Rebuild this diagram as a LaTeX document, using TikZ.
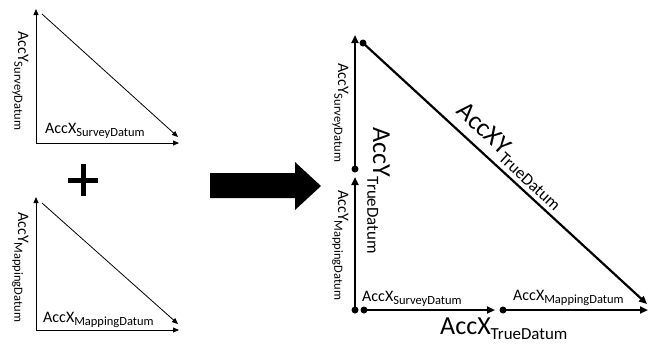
\documentclass[tikz,border=0pt]{standalone}
\usepackage{fontspec}
\setmainfont{Carlito}
\usepackage{graphicx}
\usetikzlibrary{arrows.meta,positioning}

\newcommand{\acc}[3][0.78]{Acc#2\raisebox{-0.22em}{\scalebox{#1}{#3}}}

\tikzset{
  thinline/.style={line width=0.8pt},
  thickline/.style={line width=2.2pt},
  thintip/.style={-{Triangle[length=6pt,width=5pt]}},
  thicktip/.style={-{Triangle[length=8pt,width=7pt]}},
  dot/.style={circle,fill,inner sep=0pt,minimum size=7pt},
  small/.style={inner sep=0pt,font=\fontsize{16}{18}\selectfont},
  big/.style={inner sep=0pt,font=\fontsize{26}{28}\selectfont},
}

\begin{document}
\begin{tikzpicture}[x=1pt,y=1pt]
    \useasboundingbox (0,0) rectangle (652,-346);

    % survey datum triangle
    \coordinate (s_o)  at (36,-143);
    \coordinate (s_y)  at (36,-9);
    \coordinate (s_x)  at (179,-143);
    \coordinate (s_h1) at (42,-14);
    \coordinate (s_h2) at (178,-137);
    \draw[thinline,thintip] (s_o) -- (s_y);
    \draw[thinline,thintip] (s_o) -- (s_x);
    \draw[thinline,thintip] (s_h1) -- (s_h2);
    \node[small,anchor=base west]            (s_xl) at (45,-133) {\acc{X}{SurveyDatum}};
    \node[small,anchor=base west,rotate=-90] (s_yl) at (18,-31)  {\acc{Y}{SurveyDatum}};

    % plus
    \coordinate (p_c) at (83,-180);
    \draw[line width=5pt] ([yshift=16pt]p_c) -- ([yshift=-16pt]p_c);
    \draw[line width=5pt] ([xshift=-15pt]p_c) -- ([xshift=15pt]p_c);

    % mapping datum triangle
    \coordinate (m_o)  at (36,-330);
    \coordinate (m_y)  at (36,-197);
    \coordinate (m_x)  at (179,-330);
    \coordinate (m_h1) at (42,-203);
    \coordinate (m_h2) at (178,-324);
    \draw[thinline,thintip] (m_o) -- (m_y);
    \draw[thinline,thintip] (m_o) -- (m_x);
    \draw[thinline,thintip] (m_h1) -- (m_h2);
    \node[small,anchor=base west]            (m_xl) at (43,-322) {\acc{X}{MappingDatum}};
    \node[small,anchor=base west,rotate=-90] (m_yl) at (18,-212) {\acc{Y}{MappingDatum}};

    % big arrow
    \fill (210,-173) -- (295,-173) -- (295,-162) -- (321,-186)
          -- (295,-210) -- (295,-198) -- (210,-198) -- cycle;

    % true datum triangle
    \node[dot] (t_o)   at (355,-310) {};
    \node[dot] (t_o2)  at (364,-310) {};
    \node[dot] (t_mid) at (355,-169) {};
    \node[dot] (t_top) at (363,-43)  {};
    \node[dot] (t_xm)  at (503,-310) {};
    \coordinate (t_ym)  at (355,-177);
    \coordinate (t_y)   at (355,-35);
    \coordinate (t_xs)  at (495,-310);
    \coordinate (t_x)   at (648,-310);
    \coordinate (t_h)   at (647,-304);
    \draw[thickline,thicktip] (t_o.center) -- (t_ym);
    \draw[thickline,thicktip] (t_mid.center) -- (t_y);
    \draw[thickline,thicktip] (t_o2.center) -- (t_xs);
    \draw[thickline,thicktip] (t_xm.center) -- (t_x);
    \draw[thickline,thicktip] (t_top.center) -- (t_h)
        node[big,pos=0.48,sloped,above=4pt] (t_hl) {\acc[0.65]{XY}{TrueDatum}};

    \node[small,anchor=base west]            (t_xsl) at (362,-301) {\acc{X}{SurveyDatum}};
    \node[small,anchor=base west]            (t_xml) at (513,-300) {\acc{X}{MappingDatum}};
    \node[big,anchor=base west]              (t_xl)  at (440,-334) {\acc[0.65]{X}{TrueDatum}};
    \node[small,anchor=base west,rotate=-90] (t_ysl) at (338,-63)  {\acc{Y}{SurveyDatum}};
    \node[small,anchor=base west,rotate=-90] (t_yml) at (338,-190) {\acc{Y}{MappingDatum}};
    \node[big,anchor=base west,rotate=-90]   (t_yl)  at (373,-127) {\acc[0.65]{Y}{TrueDatum}};
\end{tikzpicture}
\end{document}
